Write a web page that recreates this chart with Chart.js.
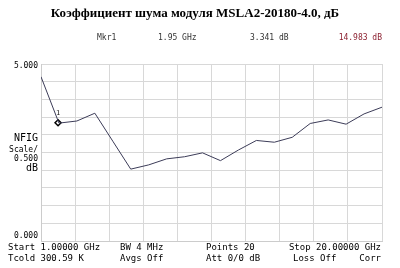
<!DOCTYPE html>
<html>
<head>
<meta charset="utf-8">
<script src="https://cdn.jsdelivr.net/npm/chart.js@4/dist/chart.umd.min.js"></script>
<style>
  html, body { margin: 0; padding: 0; background: #fff; }
  #wrap { width: 400px; height: 268px; }
</style>
</head>
<body>
<div id="wrap"><canvas id="c" width="400" height="268"></canvas></div>
<script>
// Noise figure trace, 20 points from 1 to 20 GHz
const freqGHz = [1, 2, 3, 4, 5, 6, 7, 8, 9, 10, 11, 12, 13, 14, 15, 16, 17, 18, 19, 20];
const nfigDb = [4.64, 3.33, 3.39, 3.61, 2.82, 2.03, 2.15, 2.32, 2.38, 2.49, 2.27, 2.57, 2.84, 2.79, 2.93, 3.32, 3.42, 3.30, 3.59, 3.78];
const markerFreq = [1.95];
const markerVal = [3.341];
const yTickLabels = ["5.000", "0.000"];

const title = "Коэффициент шума модуля MSLA2-20180-4.0, дБ";
const headerRow = ["Mkr1", "1.95 GHz", "3.341 dB", "14.983 dB"];
const footerRow1 = ["Start 1.00000 GHz", "BW 4 MHz", "Points 20", "Stop 20.00000 GHz"];
const footerRow2 = ["Tcold 300.59 K", "Avgs Off", "Att 0/0 dB", "Loss Off", "Corr"];

const mono = "'DejaVu Sans Mono', monospace";

const textPlugin = {
  id: "texts",
  afterDraw(chart) {
    const ctx = chart.ctx;
    const area = chart.chartArea;
    const xs = chart.scales.x, ys = chart.scales.y;
    ctx.save();
    ctx.fillStyle = "#000";
    ctx.textBaseline = "middle";

    ctx.font = "bold 13px 'Liberation Serif', serif";
    ctx.textAlign = "center";
    ctx.fillText(title, 195, 14);

    ctx.font = "8px " + mono;
    ctx.textAlign = "left";
    ctx.fillStyle = "#333";
    ctx.fillText(headerRow[0], 97, 38);
    ctx.fillText(headerRow[1], 158, 38);
    ctx.fillText(headerRow[2], 250, 38);
    ctx.fillStyle = "#8b2030";
    ctx.textAlign = "right";
    ctx.fillText(headerRow[3], 382, 38);

    ctx.fillStyle = "#000";
    ctx.font = "8px " + mono;
    ctx.textAlign = "right";
    ctx.fillText(yTickLabels[0], area.left - 3, ys.getPixelForValue(5) + 2);
    ctx.fillText(yTickLabels[1], area.left - 3, ys.getPixelForValue(0) - 5);

    ctx.font = "10px " + mono;
    ctx.fillText("NFIG", area.left - 3, 138);
    ctx.font = "8px " + mono;
    ctx.fillText("Scale/", area.left - 3, 150);
    ctx.fillText("0.500", area.left - 3, 159);
    ctx.font = "10px " + mono;
    ctx.fillText("dB", area.left - 3, 168);

    ctx.font = "9px " + mono;
    ctx.textAlign = "left";
    ctx.fillText(footerRow1[0], 8, 248);
    ctx.fillText(footerRow1[1], 120, 248);
    ctx.fillText(footerRow1[2], 206, 248);
    ctx.textAlign = "right";
    ctx.fillText(footerRow1[3], 381, 248);
    ctx.textAlign = "left";
    ctx.fillText(footerRow2[0], 8, 259);
    ctx.fillText(footerRow2[1], 120, 259);
    ctx.fillText(footerRow2[2], 206, 259);
    ctx.fillText(footerRow2[3], 293, 259);
    ctx.textAlign = "right";
    ctx.fillText(footerRow2[4], 381, 259);

    // marker label
    ctx.font = "7px " + mono;
    ctx.textAlign = "center";
    ctx.fillStyle = "#222";
    ctx.fillText("1", xs.getPixelForValue(markerFreq[0]), ys.getPixelForValue(markerVal[0]) - 10);
    ctx.restore();
  }
};

new Chart(document.getElementById("c"), {
  type: "scatter",
  data: {
    datasets: [
      {
        data: freqGHz.map((f, i) => ({ x: f, y: nfigDb[i] })),
        showLine: true,
        borderColor: "#3c3c58",
        borderWidth: 1,
        pointRadius: 0,
        tension: 0,
      },
      {
        data: markerFreq.map((f, i) => ({ x: f, y: markerVal[i] })),
        pointStyle: "rectRot",
        pointRadius: 3,
        borderColor: "#000",
        borderWidth: 1.5,
        backgroundColor: "#fff",
      },
    ],
  },
  options: {
    responsive: false,
    animation: false,
    layout: { padding: { left: 41, right: 18, top: 64, bottom: 27 } },
    plugins: { legend: { display: false }, tooltip: { enabled: false } },
    scales: {
      x: {
        type: "linear",
        min: 1,
        max: 20,
        ticks: { display: false, stepSize: 1.9 },
        grid: { color: "#d8d8d8", drawTicks: false },
        border: { color: "#cccccc" },
      },
      y: {
        min: 0,
        max: 5,
        ticks: { display: false, stepSize: 0.5 },
        grid: { color: "#d8d8d8", drawTicks: false },
        border: { color: "#cccccc" },
      },
    },
  },
  plugins: [textPlugin],
});
</script>
</body>
</html>
